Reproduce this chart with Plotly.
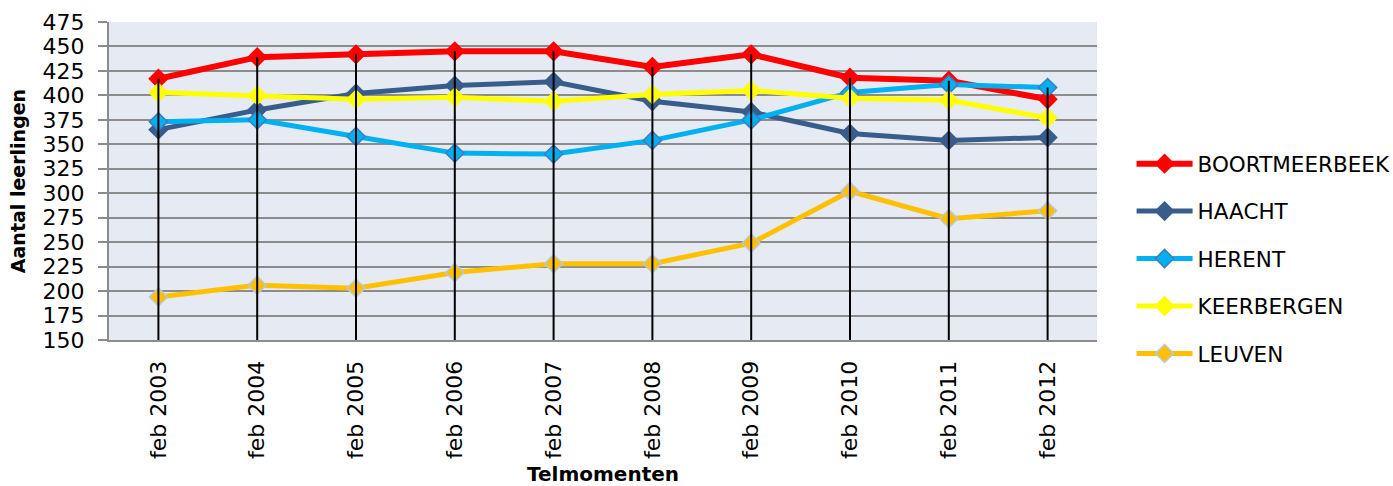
import numpy as np
import plotly.graph_objects as go

categories = ["feb 2003", "feb 2004", "feb 2005", "feb 2006", "feb 2007",
              "feb 2008", "feb 2009", "feb 2010", "feb 2011", "feb 2012"]

boortmeerbeek = [417, 439, 442, 445, 445, 429, 442, 418, 415, 396]
haacht = [365, 385, 402, 410, 414, 394, 383, 361, 354, 357]
herent = [373, 375, 358, 341, 340, 354, 375, 403, 411, 408]
keerbergen = [403, 400, 396, 398, 394, 401, 405, 397, 395, 377]
leuven = [194, 206, 203, 219, 228, 228, 249, 302, 274, 282]

y_ticks = [150, 175, 200, 225, 250, 275, 300, 325, 350, 375, 400, 425, 450, 475]

series = [
    ("BOORTMEERBEEK", boortmeerbeek, "#FF0000", "#FF0000", 6),
    ("HAACHT", haacht, "#385D8A", "#385D8A", 5),
    ("HERENT", herent, "#00B0F0", "#3E7DC0", 5),
    ("KEERBERGEN", keerbergen, "#FFFF00", "#FFFF00", 5),
    ("LEUVEN", leuven, "#FFC000", "#B9C8DC", 5),
]

FONT = "DejaVu Sans"
fig = go.Figure()

for i, (name, vals, col, mline, w) in enumerate(series):
    fig.add_trace(go.Scatter(
        x=categories, y=vals, name=name, mode="lines+markers",
        line=dict(color=col, width=w),
        marker=dict(symbol="diamond", size=14, color=col,
                    line=dict(color=mline, width=1.5)),
        legendgroup=name,
    ))

# drop lines from the highest value down to the axis
all_vals = np.array([s[1] for s in series])
tops = all_vals.max(axis=0)
dx, dy = [], []
for c, t in zip(categories, tops):
    dx += [c, c, None]
    dy += [t, y_ticks[0], None]
fig.add_trace(go.Scatter(x=dx, y=dy, mode="lines",
                         line=dict(color="black", width=2),
                         showlegend=False, hoverinfo="skip"))

fig.update_layout(
    width=1393, height=486,
    margin=dict(l=109, r=296, t=22, b=146, autoexpand=False),
    paper_bgcolor="white",
    plot_bgcolor="#E6EBF3",
    font=dict(family=FONT, color="black", size=21),
    legend=dict(x=1.035, y=0.619, xanchor="left", yanchor="top",
                font=dict(family=FONT, size=21.5, color="black"),
                tracegroupgap=16.5, itemwidth=56, bgcolor="rgba(0,0,0,0)"),
    showlegend=True,
)

fig.update_xaxes(
    type="category", categoryorder="array", categoryarray=categories,
    range=[-0.5, len(categories) - 0.5],
    tickangle=-90, showgrid=False, ticks="",
    showline=True, linecolor="#8C8C8C", linewidth=2,
    tickfont=dict(family=FONT, size=22),
    ticklabelstandoff=10, automargin=False,
    title=dict(text="<b>Telmomenten</b>", font=dict(family=FONT, size=20), standoff=14),
)
fig.update_yaxes(
    range=[y_ticks[0], y_ticks[-1]], tickvals=y_ticks,
    showgrid=True, gridcolor="#8C8C8C", gridwidth=2,
    showline=True, linecolor="#8C8C8C", linewidth=2,
    ticks="outside", ticklen=9, tickcolor="#8C8C8C", tickwidth=2,
    tickfont=dict(family=FONT, size=22),
    ticklabelstandoff=9,
    zeroline=False, automargin=False,
    title=dict(text="<b>Aantal leerlingen</b>", font=dict(family=FONT, size=19), standoff=12),
)

fig.write_html(
    "out.html",
    config={"displayModeBar": False},
    post_script="document.body.style.margin='0';document.body.style.overflow='hidden';",
)
